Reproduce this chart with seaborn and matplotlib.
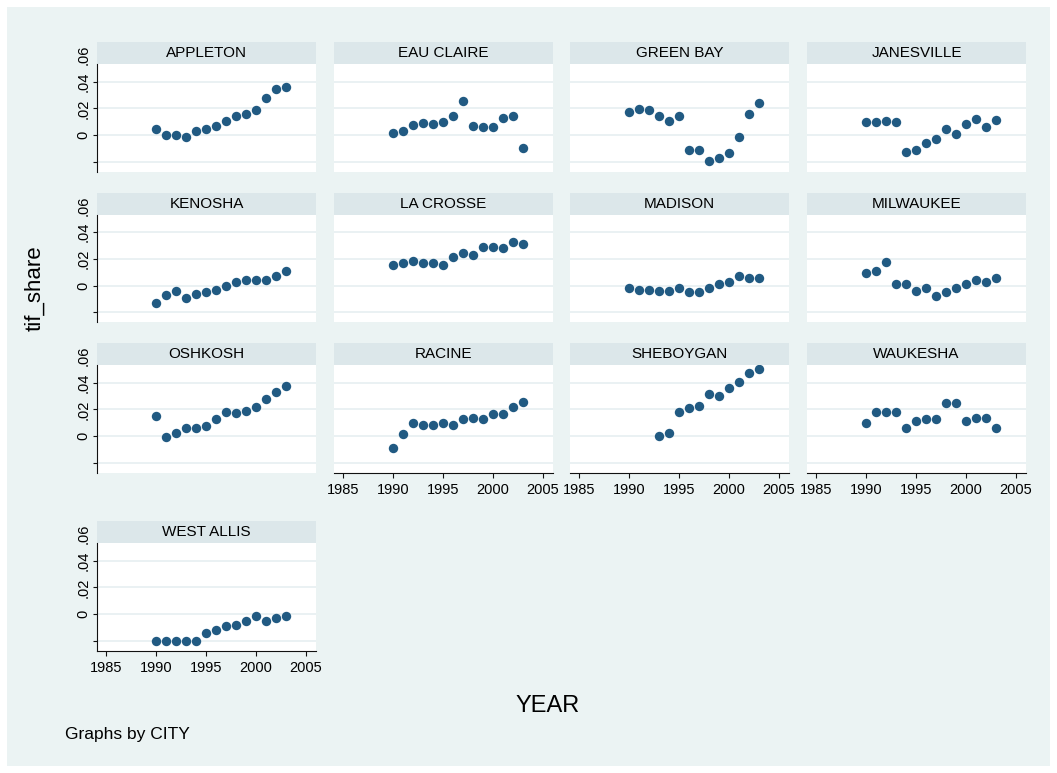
import numpy as np
import pandas as pd
import seaborn as sns
import matplotlib
import matplotlib.pyplot as plt
from matplotlib.patches import Rectangle

matplotlib.use("Agg")

# data
years = list(range(1990, 2004))
sheboygan_years = list(range(1993, 2004))

appleton = [0.0043, -0.0002, -0.0002, -0.0017, 0.0028, 0.0043, 0.0068, 0.0105, 0.0140, 0.0155, 0.0188, 0.0275, 0.0343, 0.0358]
eau_claire = [0.0013, 0.0030, 0.0075, 0.0090, 0.0083, 0.0098, 0.0140, 0.0258, 0.0068, 0.0060, 0.0060, 0.0125, 0.0143, -0.0095]
green_bay = [0.0170, 0.0198, 0.0185, 0.0140, 0.0105, 0.0140, -0.0110, -0.0110, -0.0193, -0.0175, -0.0133, -0.0018, 0.0158, 0.0243]
janesville = [0.0098, 0.0098, 0.0105, 0.0098, -0.0128, -0.0110, -0.0063, -0.0030, 0.0043, 0.0010, 0.0083, 0.0123, 0.0063, 0.0113]
kenosha = [-0.0130, -0.0068, -0.0040, -0.0090, -0.0060, -0.0045, -0.0033, 0.0000, 0.0025, 0.0040, 0.0040, 0.0040, 0.0075, 0.0113]
la_crosse = [0.0158, 0.0170, 0.0185, 0.0170, 0.0170, 0.0155, 0.0215, 0.0245, 0.0228, 0.0293, 0.0293, 0.0285, 0.0330, 0.0315]
madison = [-0.0015, -0.0033, -0.0033, -0.0040, -0.0040, -0.0015, -0.0048, -0.0048, -0.0015, 0.0013, 0.0028, 0.0073, 0.0055, 0.0058]
milwaukee = [0.0098, 0.0113, 0.0180, 0.0013, 0.0013, -0.0040, -0.0015, -0.0075, -0.0045, -0.0015, 0.0013, 0.0043, 0.0025, 0.0058]
oshkosh = [0.0150, -0.0008, 0.0025, 0.0058, 0.0058, 0.0073, 0.0130, 0.0178, 0.0170, 0.0185, 0.0218, 0.0275, 0.0330, 0.0375]
racine = [-0.0088, 0.0013, 0.0098, 0.0085, 0.0085, 0.0098, 0.0085, 0.0128, 0.0135, 0.0128, 0.0168, 0.0168, 0.0215, 0.0258]
sheboygan = [0.0000, 0.0025, 0.0180, 0.0208, 0.0225, 0.0313, 0.0300, 0.0358, 0.0403, 0.0473, 0.0500]
waukesha = [0.0100, 0.0178, 0.0178, 0.0178, 0.0058, 0.0113, 0.0130, 0.0130, 0.0245, 0.0245, 0.0113, 0.0135, 0.0135, 0.0058]
west_allis = [-0.0200, -0.0200, -0.0200, -0.0200, -0.0200, -0.0141, -0.0123, -0.0089, -0.0084, -0.0054, -0.0012, -0.0054, -0.0027, -0.0015]

cities = ["APPLETON", "EAU CLAIRE", "GREEN BAY", "JANESVILLE", "KENOSHA", "LA CROSSE",
          "MADISON", "MILWAUKEE", "OSHKOSH", "RACINE", "SHEBOYGAN", "WAUKESHA", "WEST ALLIS"]
city_values = [appleton, eau_claire, green_bay, janesville, kenosha, la_crosse, madison,
               milwaukee, oshkosh, racine, sheboygan, waukesha, west_allis]

y_ticks = [-0.02, 0, 0.02, 0.04]
y_tick_labels = ["", "0", ".02", ".04"]
x_ticks = [1985, 1990, 1995, 2000, 2005]

frames = []
for city, vals in zip(cities, city_values):
    yrs = sheboygan_years if city == "SHEBOYGAN" else years
    frames.append(pd.DataFrame({"CITY": city, "YEAR": yrs, "tif_share": vals}))
df = pd.concat(frames, ignore_index=True)

BG = "#ebf3f3"
STRIP = "#dce7ea"
GRID = "#e6eff1"
MARK = "#215a82"

sns.set_style("white")
plt.rcParams["font.family"] = ["Liberation Sans", "DejaVu Sans"]
plt.rcParams["text.color"] = "black"

g = sns.FacetGrid(df, col="CITY", col_wrap=4, col_order=cities, sharex=True, sharey=True, despine=False)
g.map_dataframe(sns.scatterplot, x="YEAR", y="tif_share", color=MARK, s=46, linewidth=0)
g.set_titles(col_template="")
g.set_axis_labels("", "")

fig = g.figure
fig.set_size_inches(10.57, 7.73)
fig.set_dpi(100)
fig.patch.set_facecolor("white")
W, H = 1057, 773
fig.add_artist(Rectangle((7 / W, 7 / H), 1043 / W, 759 / H, transform=fig.transFigure,
                         facecolor=BG, edgecolor="none", zorder=-10))

col_left = [97, 334, 570, 807]
row_top = [64, 214.5, 365, 543]
pw, ph = 219, 107.5
strip_h = 22

for i, ax in enumerate(g.axes.flat):
    r, c = divmod(i, 4)
    city = cities[i]
    is_bottom = i >= 9
    is_left = c == 0
    ax.set_position([col_left[c] / W, 1 - (row_top[r] + ph) / H, pw / W, ph / H])
    ax.set_facecolor("white")
    ax.set_xlim(1984.1, 2006)
    ax.set_ylim(-0.0273, 0.0533)
    ax.set_yticks(y_ticks)
    ax.set_xticks(x_ticks)
    ax.grid(axis="y", color=GRID, lw=1.2)
    ax.grid(axis="x", visible=False)
    ax.set_axisbelow(True)
    for s in ax.spines.values():
        s.set_visible(False)

    # title strip
    ax.add_patch(Rectangle((0, 1), 1, strip_h / ph, transform=ax.transAxes, clip_on=False,
                           facecolor=STRIP, edgecolor="none"))
    ax.text(0.5, 1 + strip_h / 2 / ph, city, transform=ax.transAxes, ha="center", va="center",
            fontsize=11, color="black")

    ax.tick_params(axis="y", left=is_left, labelleft=is_left, direction="out", length=3,
                   width=0.8, color="#111111", labelcolor="black", pad=1.5, labelsize=10.5)
    ax.tick_params(axis="x", bottom=is_bottom, labelbottom=is_bottom, direction="out", length=3.5,
                   width=0.8, color="#111111", labelcolor="black", pad=4, labelsize=10.5)
    if is_left:
        ax.spines["left"].set_visible(True)
        ax.spines["left"].set_color("#111111")
        ax.spines["left"].set_linewidth(0.8)
        ax.set_yticklabels(y_tick_labels, rotation=90, va="center")
        ax.annotate(".06", xy=(0, 0.06), xycoords=("axes fraction", "data"), xytext=(-4.5, 0),
                    textcoords="offset points", ha="right", va="center", rotation=90,
                    fontsize=10.5, color="black", annotation_clip=False)
    if is_bottom:
        ax.spines["bottom"].set_visible(True)
        ax.spines["bottom"].set_color("#111111")
        ax.spines["bottom"].set_linewidth(0.8)

fig.text(35 / W, 1 - 288 / H, "tif_share", rotation=90, fontsize=16, ha="center", va="center", color="black")
fig.text(548 / W, 1 - 706 / H, "YEAR", fontsize=17, ha="center", va="center", color="black")
fig.text(65 / W, 1 - 734 / H, "Graphs by CITY", fontsize=12.5, ha="left", va="center", color="black")

fig.savefig("out.png", dpi=100)
plt.close()
